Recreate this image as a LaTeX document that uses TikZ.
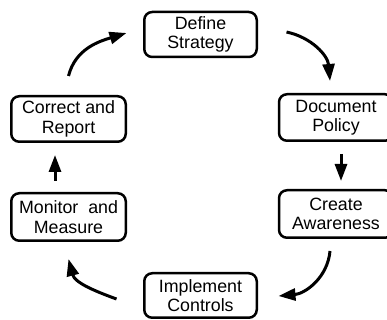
\documentclass[tikz,border=0pt]{standalone}
\usepackage{fontspec}
\setmainfont{Liberation Sans}
\usetikzlibrary{arrows.meta, positioning}

\begin{document}
\begin{tikzpicture}[x=1pt, y=1pt,
    box/.style={rectangle, rounded corners=8pt, draw, line width=2.5pt, inner sep=0pt,
                minimum width=112.5pt, minimum height=45pt, align=center,
                font=\fontsize{17.8}{19.5}\selectfont},
    arr/.style={-{Triangle[length=17pt, width=12pt]}, line width=3pt}]
    \useasboundingbox (0,0) rectangle (387,320);

    % Steps of the cycle
    \node[box] (define) at (200.5, 285.5) {Define\\Strategy};
    \node[box, minimum width=114pt, minimum height=46.5pt] (policy) at (336, 202.5) {Document\\Policy};
    \node[box, minimum width=114pt, minimum height=47.5pt] (awareness) at (336, 106) {Create\\Awareness};
    \node[box, minimum height=44.5pt] (implement) at (200.5, 24.5) {Implement\\Controls};
    \node[box, minimum width=114.5pt, minimum height=47.5pt] (monitor) at (68.5, 103) {Monitor\ \ and\\Measure};
    \node[box, minimum width=114.5pt, minimum height=45.5pt] (correct) at (68.5, 201) {Correct and\\Report};

    % Arrows
    \draw[arr] ([xshift=28.5pt, yshift=2.5pt]define.east) to[out=-12, in=95] ([xshift=-6pt, yshift=12pt]policy.north);
    \draw[arr] ([xshift=5pt, yshift=-12pt]policy.south) -- ([xshift=5pt, yshift=8pt]awareness.north);
    \draw[arr] ([xshift=-6pt, yshift=-12pt]awareness.south) to[out=-95, in=5] ([xshift=20.5pt, yshift=-0.5pt]implement.east);
    \draw[arr] ([xshift=-26.5pt, yshift=-3.5pt]implement.west) to[out=160, in=-75] ([yshift=-17pt]monitor.south);
    \draw[arr] ([xshift=-13.5pt, yshift=11pt]monitor.north) -- ([xshift=-13.5pt, yshift=-12pt]correct.south);
    \draw[arr] ([yshift=19pt]correct.north) to[out=76, in=197] ([xshift=-16.5pt, yshift=1.5pt]define.west);
\end{tikzpicture}
\end{document}
